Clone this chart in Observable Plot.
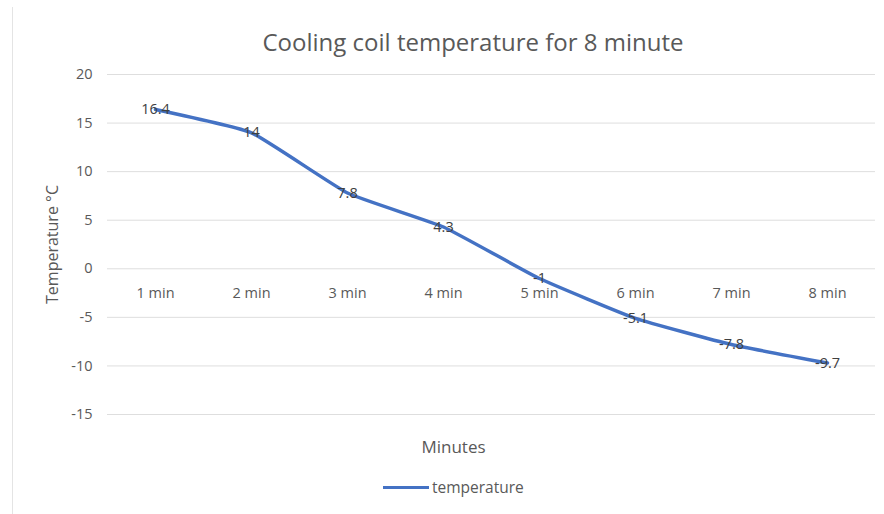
<!DOCTYPE html>
<html>
<head>
<meta charset="utf-8">
<script src="https://cdn.jsdelivr.net/npm/d3@7"></script>
<script src="https://cdn.jsdelivr.net/npm/@observablehq/plot@0.6"></script>
<style>
  html, body { margin: 0; padding: 0; background: #fff; }
  #wrap { position: relative; width: 884px; height: 514px; font-family: "Open Sans", sans-serif; overflow: hidden; background: #fff; }
  #border { position: absolute; left: 12px; top: 7px; bottom: 0; width: 0; border-left: 1px solid #e4e4e4; z-index: 2; }
  #title { position: absolute; left: 0; top: 26px; width: 884px; text-align: center; font-size: 24px; line-height: 32px; color: #595959; padding-left: 62px; box-sizing: border-box; }
  #chart { position: absolute; left: 0; top: 60px; }
  #legend { position: absolute; left: 383px; top: 476px; height: 22px; display: flex; align-items: center; font-size: 15.5px; color: #595959; }
  #legend .sw { width: 46px; height: 3px; background: #4472C4; margin-right: 3px; }
  svg { display: block; }
</style>
</head>
<body>
<div id="wrap">
  <div id="border"></div>
  <div id="title">Cooling coil temperature for 8 minute</div>
  <div id="chart"></div>
  <div id="legend"><div class="sw"></div><span id="legendText"></span></div>
</div>
<script>
const minutes = ["1 min", "2 min", "3 min", "4 min", "5 min", "6 min", "7 min", "8 min"];
const temperature = [16.4, 14, 7.8, 4.3, -1, -5.1, -7.8, -9.7];
const yTicks = [20, 15, 10, 5, 0, -5, -10, -15];
const seriesName = "temperature";
const xTitle = "Minutes";
const yTitle = "Temperature °C";

document.getElementById("legendText").textContent = seriesName;

const data = minutes.map((m, i) => ({minute: m, value: temperature[i]}));

const chart = Plot.plot({
  width: 884,
  height: 410,
  marginTop: 14,
  marginBottom: 56,
  marginLeft: 107,
  marginRight: 9,
  style: {fontFamily: "Open Sans, sans-serif", fontSize: "14px", color: "#595959", background: "transparent"},
  x: {type: "point", domain: minutes, padding: 0.5, axis: null},
  y: {domain: [-15, 20], ticks: yTicks, label: null},
  marks: [
    Plot.gridY(yTicks, {stroke: "#dedede", strokeOpacity: 1, strokeWidth: 1}),
    Plot.axisY(yTicks, {tickSize: 0, tickPadding: 15, fill: "#595959", fontSize: 14.5, tickFormat: d => String(d)}),
    Plot.text(minutes, {x: d => d, y: () => 0, dy: 25, fill: "#595959", fontSize: 14.5}),
    Plot.text([yTitle], {frameAnchor: "left", textAnchor: "middle", rotate: -90, dx: -55, fill: "#595959", fontSize: 16}),
    Plot.text([xTitle], {frameAnchor: "bottom", dx: -38, dy: 38, fill: "#595959", fontSize: 17}),
    Plot.line(data, {x: "minute", y: "value", stroke: "#4472C4", strokeWidth: 3.5, curve: "cardinal", tension: 0.6}),
    Plot.text(data, {x: "minute", y: "value", text: d => String(d.value), fill: "#404040", fontSize: 14.5})
  ]
});
document.getElementById("chart").appendChild(chart);
</script>
</body>
</html>
